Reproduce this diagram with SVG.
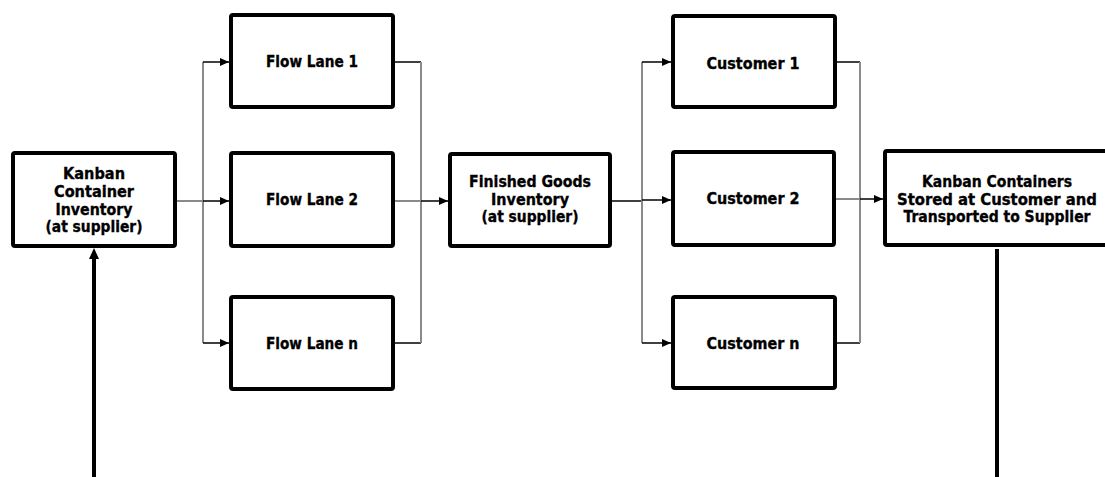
<svg xmlns="http://www.w3.org/2000/svg" width="1105" height="477" viewBox="0 0 1105 477">
<style>
.box{fill:#fff;stroke:#000;stroke-width:4;}
.t{font-family:"DejaVu Sans","Liberation Sans",sans-serif;font-weight:bold;font-size:15px;fill:#000;stroke:#000;stroke-width:0.35;text-anchor:middle;}
.bus{stroke:#8a8a8a;stroke-width:2;fill:none;}
.h{stroke:#000;stroke-width:1.5;fill:none;}
.hg{stroke:#8a8a8a;stroke-width:2;fill:none;}
.thick{stroke:#000;stroke-width:4;fill:none;}
</style>
<defs>
<marker id="ah" markerWidth="9" markerHeight="8" refX="9" refY="4" orient="auto" markerUnits="userSpaceOnUse">
<path d="M0,0 L9,4 L0,8 Z" fill="#000"/>
</marker>
</defs>
<rect width="1105" height="477" fill="#fff"/>
<g id="connectors">
<path class="hg" d="M177,201 H203"/>
<path class="bus" d="M203,62 V343"/>
<path class="h" d="M203,62 H229" marker-end="url(#ah)"/>
<path class="h" d="M203,201 H229" marker-end="url(#ah)"/>
<path class="h" d="M203,343 H229" marker-end="url(#ah)"/>
<path class="h" d="M395,62 H421"/>
<path class="hg" d="M395,201 H421"/>
<path class="h" d="M395,343 H421"/>
<path class="bus" d="M421,62 V343"/>
<path class="h" d="M421,201 H448" marker-end="url(#ah)"/>
<path class="h" d="M612,201 H642"/>
<path class="bus" d="M642,62 V343"/>
<path class="h" d="M642,62 H671" marker-end="url(#ah)"/>
<path class="h" d="M642,200 H671" marker-end="url(#ah)"/>
<path class="h" d="M642,343 H671" marker-end="url(#ah)"/>
<path class="h" d="M837,62 H860"/>
<path class="hg" d="M836,199 H860"/>
<path class="h" d="M837,343 H860"/>
<path class="bus" d="M860,62 V343"/>
<path class="h" d="M860,199 H883" marker-end="url(#ah)"/>
<path class="thick" d="M94,477 V256"/>
<polygon points="94,248 99,259 89,259" fill="#000"/>
<path class="thick" d="M997,249 V477"/>
</g>
<g id="kanban-inventory">
<rect class="box" x="13" y="153" width="162" height="93" rx="2"/>
<text class="t" x="94" y="179" textLength="62" lengthAdjust="spacingAndGlyphs">Kanban</text>
<text class="t" x="94" y="197" textLength="80" lengthAdjust="spacingAndGlyphs">Container</text>
<text class="t" x="94" y="215" textLength="77" lengthAdjust="spacingAndGlyphs">Inventory</text>
<text class="t" x="94" y="232" textLength="97" lengthAdjust="spacingAndGlyphs">(at supplier)</text>
</g>
<g id="flow-lane-1">
<rect class="box" x="231" y="15" width="162" height="92" rx="2"/>
<text class="t" x="312" y="67" textLength="92" lengthAdjust="spacingAndGlyphs">Flow Lane 1</text>
</g>
<g id="flow-lane-2">
<rect class="box" x="231" y="153" width="162" height="93" rx="2"/>
<text class="t" x="312" y="205" textLength="92" lengthAdjust="spacingAndGlyphs">Flow Lane 2</text>
</g>
<g id="flow-lane-n">
<rect class="box" x="231" y="297" width="162" height="92" rx="2"/>
<text class="t" x="312" y="349" textLength="92" lengthAdjust="spacingAndGlyphs">Flow Lane n</text>
</g>
<g id="finished-goods">
<rect class="box" x="450" y="154" width="160" height="92" rx="2"/>
<text class="t" x="530" y="187" textLength="122" lengthAdjust="spacingAndGlyphs">Finished Goods</text>
<text class="t" x="530" y="205" textLength="78" lengthAdjust="spacingAndGlyphs">Inventory</text>
<text class="t" x="530" y="222" textLength="97" lengthAdjust="spacingAndGlyphs">(at supplier)</text>
</g>
<g id="customer-1">
<rect class="box" x="673" y="16" width="162" height="91" rx="2"/>
<text class="t" x="753" y="69" textLength="93" lengthAdjust="spacingAndGlyphs">Customer 1</text>
</g>
<g id="customer-2">
<rect class="box" x="673" y="152" width="161" height="93" rx="2"/>
<text class="t" x="753" y="204" textLength="93" lengthAdjust="spacingAndGlyphs">Customer 2</text>
</g>
<g id="customer-n">
<rect class="box" x="673" y="297" width="162" height="91" rx="2"/>
<text class="t" x="753" y="349" textLength="93" lengthAdjust="spacingAndGlyphs">Customer n</text>
</g>
<g id="kanban-containers-stored">
<rect class="box" x="885" y="151" width="226" height="94" rx="2"/>
<text class="t" x="997" y="187" textLength="150" lengthAdjust="spacingAndGlyphs">Kanban Containers</text>
<text class="t" x="997" y="205" textLength="200" lengthAdjust="spacingAndGlyphs">Stored  at Customer  and</text>
<text class="t" x="997" y="222" textLength="187" lengthAdjust="spacingAndGlyphs">Transported to Supplier</text>
</g>
</svg>
